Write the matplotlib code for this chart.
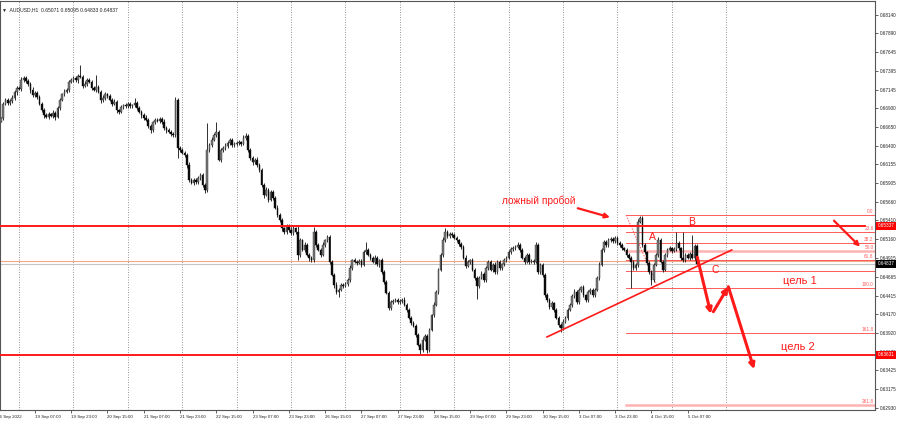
import matplotlib
matplotlib.use("Agg")
import matplotlib.pyplot as plt
import matplotlib.transforms as mtransforms
import numpy as np

plt.rcParams['font.family'] = ['Liberation Sans', 'DejaVu Sans']

# AUDUSD H1, bar 0 = 16 Sep 2022 16:00, last bar = 5 Oct 2022 11:00
first_open = 0.66720
closes = [
    0.66768, 0.66954, 0.67007, 0.66967, 0.66994, 0.67033, 0.67113, 0.67166, 0.67153, 0.67272,
    0.67299, 0.67259, 0.67219, 0.67140, 0.67073, 0.67100, 0.67047, 0.66954, 0.66874, 0.66808,
    0.66782, 0.66821, 0.66795, 0.66835, 0.66782, 0.66901, 0.67007, 0.67086, 0.67113, 0.67140,
    0.67246, 0.67272, 0.67299, 0.67272, 0.67325, 0.67312, 0.67193, 0.67219, 0.67272, 0.67246,
    0.67166, 0.67140, 0.67179, 0.67113, 0.67007, 0.67033, 0.67086, 0.67060, 0.67007, 0.66954,
    0.66980, 0.66874, 0.66848, 0.66914, 0.66940, 0.66927, 0.66954, 0.66927, 0.66940, 0.66967,
    0.66901, 0.66848, 0.66808, 0.66768, 0.66742, 0.66662, 0.66609, 0.66715, 0.66742, 0.66729,
    0.66755, 0.66715, 0.66636, 0.66609, 0.66583, 0.66556, 0.66543, 0.67007, 0.66371, 0.66344,
    0.66305, 0.66278, 0.66145, 0.65947, 0.65907, 0.65947, 0.65920, 0.65973, 0.66013, 0.65880,
    0.65814, 0.66344, 0.66410, 0.66477, 0.66543, 0.66583, 0.66212, 0.66344, 0.66371, 0.66397,
    0.66437, 0.66477, 0.66410, 0.66424, 0.66437, 0.66450, 0.66424, 0.66503, 0.66530, 0.66344,
    0.66238, 0.66185, 0.66212, 0.66145, 0.66079, 0.65880, 0.65748, 0.65814, 0.65682, 0.65788,
    0.65708, 0.65576, 0.65483, 0.65416, 0.65310, 0.65257, 0.65337, 0.65284, 0.65244, 0.65310,
    0.65257, 0.64953, 0.65151, 0.65019, 0.65085, 0.64953, 0.64913, 0.64886, 0.65257, 0.65085,
    0.65019, 0.64953, 0.65085, 0.65151, 0.65191, 0.64860, 0.64688, 0.64555, 0.64462, 0.64489,
    0.64555, 0.64542, 0.64568, 0.64621, 0.64780, 0.64886, 0.64860, 0.64847, 0.64873, 0.64820,
    0.64992, 0.65019, 0.64953, 0.64913, 0.64860, 0.64913, 0.64833, 0.64886, 0.64727, 0.64595,
    0.64449, 0.64250, 0.64329, 0.64343, 0.64356, 0.64329, 0.64343, 0.64356, 0.64290, 0.64224,
    0.64118, 0.64051, 0.64012, 0.63892, 0.63760, 0.63694, 0.63826, 0.63879, 0.63694, 0.63959,
    0.64157, 0.64290, 0.64462, 0.64754, 0.64953, 0.65151, 0.65257, 0.65204, 0.65231, 0.65218,
    0.65178, 0.65151, 0.65098, 0.65059, 0.64913, 0.64807, 0.64860, 0.64886, 0.64754, 0.64648,
    0.64542, 0.64648, 0.64701, 0.64621, 0.64780, 0.64860, 0.64754, 0.64820, 0.64727, 0.64860,
    0.64780, 0.64833, 0.64886, 0.64913, 0.64992, 0.65032, 0.65045, 0.65059, 0.65085, 0.65019,
    0.64913, 0.64860, 0.64953, 0.64860, 0.64873, 0.64860, 0.65085, 0.64727, 0.64820, 0.64688,
    0.64422, 0.64356, 0.64263, 0.64316, 0.64224, 0.64118, 0.64025, 0.63985, 0.64065, 0.64118,
    0.64224, 0.64290, 0.64409, 0.64462, 0.64329, 0.64489, 0.64528, 0.64422, 0.64356, 0.64462,
    0.64489, 0.64422, 0.64489, 0.64648, 0.64820, 0.65019, 0.65125, 0.65085, 0.65151, 0.65165,
    0.65138, 0.65178, 0.65112, 0.65085, 0.65045, 0.65019, 0.64953, 0.64913, 0.64860, 0.64780,
    0.64820, 0.65390, 0.65443, 0.65085, 0.64992, 0.64847, 0.64727, 0.64621, 0.64820, 0.64953,
    0.65151, 0.64860, 0.64754, 0.64953, 0.65019, 0.65045, 0.65006, 0.65032, 0.65112, 0.65045,
    0.64913, 0.64886, 0.64953, 0.64913, 0.64966, 0.64913, 0.65071, 0.64837,
]
# wick length beyond the body, in pips
wick_up = [
    2, 3, 2, 3, 2, 4, 2, 3, 2, 4, 3, 2, 3, 2, 4, 3, 2, 3, 2, 3,
    2, 3, 2, 4, 2, 3, 3, 2, 4, 2, 3, 2, 3, 2, 3, 15, 2, 4, 3, 2,
    3, 2, 16, 3, 2, 4, 3, 2, 3, 2, 4, 3, 2, 3, 2, 3, 2, 3, 2, 7,
    3, 2, 3, 2, 4, 2, 3, 2, 3, 2, 3, 2, 4, 2, 3, 2, 3, 4, 2, 3,
    2, 3, 2, 4, 3, 2, 3, 2, 3, 2, 3, 36, 3, 4, 3, 13, 3, 2, 3, 4,
    2, 3, 2, 3, 2, 3, 2, 4, 4, 3, 2, 3, 2, 4, 3, 2, 3, 4, 2, 3,
    2, 3, 4, 2, 3, 2, 3, 2, 4, 3, 2, 9, 3, 2, 4, 3, 2, 3, 7, 3,
    2, 3, 4, 2, 3, 2, 3, 2, 4, 3, 2, 3, 2, 3, 4, 2, 3, 2, 3, 2,
    3, 11, 2, 3, 2, 4, 3, 2, 3, 2, 3, 2, 3, 2, 3, 2, 3, 2, 4, 2,
    3, 2, 3, 2, 3, 2, 4, 3, 2, 3, 2, 4, 3, 2, 3, 4, 5, 3, 2, 3,
    2, 3, 2, 3, 2, 4, 3, 2, 3, 2, 3, 2, 4, 3, 2, 3, 2, 3, 4, 2,
    3, 2, 3, 2, 3, 2, 3, 2, 4, 3, 2, 3, 2, 3, 2, 3, 4, 3, 2, 3,
    2, 3, 2, 3, 2, 3, 2, 3, 4, 2, 3, 2, 3, 4, 2, 3, 2, 3, 2, 3,
    2, 3, 2, 3, 4, 2, 3, 2, 3, 2, 3, 2, 3, 2, 3, 2, 3, 2, 3, 2,
    3, 4, 3, 2, 3, 2, 3, 2, 3, 2, 4, 3, 2, 3, 2, 3, 2, 3, 14, 3,
    2, 34, 3, 2, 3, 25, 3, 2.4,
]
wick_dn = [
    1, 3, 2, 3, 2, 3, 2, 4, 2, 3, 2, 3, 2, 4, 3, 2, 3, 2, 3, 4,
    2, 3, 2, 3, 4, 2, 3, 2, 3, 2, 3, 2, 3, 2, 4, 2, 3, 2, 3, 2,
    3, 2, 3, 2, 4, 3, 2, 3, 2, 3, 2, 4, 3, 2, 3, 2, 3, 2, 3, 2,
    3, 2, 4, 3, 2, 3, 4, 2, 3, 2, 3, 2, 3, 4, 2, 3, 2, 3, 13, 3,
    2, 3, 4, 3, 2, 3, 2, 3, 2, 3, 4, 3, 2, 3, 2, 3, 2, 3, 2, 3,
    3, 2, 3, 2, 3, 2, 3, 2, 3, 2, 3, 4, 2, 3, 2, 3, 4, 2, 3, 2,
    3, 2, 3, 2, 4, 3, 2, 3, 2, 3, 2, 7, 3, 2, 3, 2, 4, 3, 2, 3,
    2, 3, 2, 3, 2, 3, 2, 4, 3, 7, 2, 3, 2, 3, 2, 3, 2, 3, 2, 3,
    2, 3, 2, 3, 2, 3, 2, 4, 2, 3, 2, 3, 2, 3, 2, 3, 2, 3, 2, 3,
    2, 3, 2, 3, 2, 5, 3, 2, 4, 3, 2, 3, 2, 3, 2, 3, 2, 3, 2, 3,
    2, 3, 2, 3, 2, 3, 2, 3, 2, 3, 17, 3, 2, 3, 2, 3, 2, 3, 2, 3,
    2, 3, 2, 3, 2, 3, 2, 3, 2, 3, 2, 3, 2, 3, 2, 3, 2, 3, 2, 3,
    3, 2, 3, 2, 3, 2, 3, 5, 3, 2, 3, 2, 3, 2, 3, 2, 3, 2, 3, 2,
    3, 2, 3, 2, 3, 2, 3, 2, 3, 2, 3, 2, 3, 2, 3, 2, 3, 2, 34, 3,
    2, 3, 2, 3, 2, 3, 2, 7, 3, 2, 3, 2, 3, 2, 3, 2, 3, 2, 3, 2,
    3, 2, 3, 2, 3, 2, 3, 0.4,
]

time_labels = ['19 Sep 07:00', '19 Sep 23:00', '20 Sep 15:00', '21 Sep 07:00', '21 Sep 23:00',
               '22 Sep 15:00', '23 Sep 07:00', '23 Sep 23:00', '26 Sep 15:00', '27 Sep 07:00',
               '27 Sep 23:00', '28 Sep 15:00', '29 Sep 07:00', '29 Sep 23:00', '30 Sep 15:00',
               '3 Oct 07:00', '3 Oct 23:00', '4 Oct 15:00', '5 Oct 07:00']
time_label_bars = [15, 31, 47, 63, 79, 95, 111, 127, 143, 159, 175, 191, 207, 223, 239,
                   255, 271, 287, 303]
day_start_bars = [8, 32, 56, 80, 104, 128, 152, 176, 200, 224, 248, 272, 296, 320]

price_ticks = [0.68140, 0.67890, 0.67645, 0.67395, 0.67145, 0.66900, 0.66650, 0.66400,
               0.66155, 0.65905, 0.65660, 0.65410, 0.65160, 0.64915, 0.64665, 0.64415,
               0.64170, 0.63920, 0.63670, 0.63425, 0.63175, 0.62930]

resistance = 0.65337
support = 0.63631
bid = 0.64837
orange_level = 0.64868

fib_high = 0.65483
fib_low = 0.64519
fib_start_bar = 275.8
fib_low_bar = 289.9
fib_levels = [0.0, 23.6, 38.2, 50.0, 61.8, 76.4, 100.0, 161.8, 261.8]
fib_labeled = [True, True, True, True, True, False, True, True, True]

trend_bars = [240.9, 322.4]
trend_prices = [0.63866, 0.65019]

# (bar, price) anchors of the hand-drawn arrows
false_break_arrow = [(254.5, 0.65572), (268.7, 0.65452)]
right_arrow = [(367.5, 0.65407), (379.0, 0.65063)]
zigzag = [[(307.2, 0.64922), (313.2, 0.64171)],
          [(314.3, 0.64201), (320.9, 0.64532)],
          [(320.9, 0.64532), (332.3, 0.63438)]]

texts = [('ложный пробой', 221.1, 0.65668, 7.3),
         ('A', 286.0, 0.65185, 7.5),
         ('B', 303.0, 0.65390, 7.5),
         ('C', 313.5, 0.64754, 7.5),
         ('цель 1', 345.0, 0.64608, 8.0),
         ('цель 2', 344.0, 0.63733, 8.0)]

RED = '#ff1a1a'
FIBRED = '#ff5a5a'

fig = plt.figure(figsize=(9, 4.22), dpi=100)
ax = fig.add_axes([0, 12 / 422, 875 / 900, 409 / 422])
ax.set_xlim(-0.4, 385.6)
ax.set_ylim(0.62898, 0.68319)

# day separators
for b in day_start_bars:
    ax.axvline(b, color='#8a8a8a', lw=0.6, ls=(0, (1.2, 1.8)), zorder=1)

# candles
c = np.array(closes)
o = np.r_[first_open, c[:-1]]
hi = np.maximum(o, c) + np.array(wick_up) / 10000
lo = np.minimum(o, c) - np.array(wick_dn) / 10000
x = np.arange(len(c))
up = c >= o
ax.vlines(x, lo, hi, color='#202020', lw=0.65, zorder=3)
body = np.maximum(np.abs(c - o), 0.00003)
ax.bar(x[up], body[up], bottom=o[up], width=0.72, color='#7a7a7a',
       edgecolor='#2a2a2a', lw=0.3, zorder=4)
ax.bar(x[~up], body[~up], bottom=np.minimum(o, c)[~up], width=0.72, color='#0a0a0a',
       edgecolor='#0a0a0a', lw=0.3, zorder=4)

# horizontal levels
ax.axhline(orange_level, color='#f4a582', lw=0.8, zorder=2)
ax.axhline(bid, color='#c4c4c4', lw=0.8, zorder=2)
ax.plot([-0.4, 381.2], [resistance, resistance], color=RED, lw=1.4, zorder=5)
ax.axhline(support, color=RED, lw=1.4, zorder=5)

# fibonacci grid
rng = fib_high - fib_low
for lev, lab in zip(fib_levels, fib_labeled):
    p = fib_high - lev / 100 * rng
    if lev in (50.0, 261.8):
        ax.plot([fib_start_bar, 385.6], [p, p], color='#ffb3b3', lw=1.8, zorder=2)
    else:
        ax.plot([fib_start_bar, 385.6], [p, p], color=FIBRED, lw=0.7, zorder=2)
    if lab:
        ax.text(385.0, p + 0.00012, f'{lev:.1f}', color=FIBRED, fontsize=3.4,
                ha='right', va='bottom', zorder=6)
ax.plot([fib_start_bar, fib_low_bar], [fib_high, fib_low], color=FIBRED, lw=0.7,
        ls=(0, (1.5, 1.5)), zorder=2)

# trend line
ax.plot(trend_bars, trend_prices, color=RED, lw=1.2, zorder=5)

# arrows
def arrow(p0, p1, lw, ms):
    ax.annotate('', xy=p1, xytext=p0,
                arrowprops=dict(arrowstyle='-|>', color=RED, lw=lw, mutation_scale=ms,
                                shrinkA=0, shrinkB=0), zorder=7)

arrow(*false_break_arrow, 1.6, 7)
arrow(*right_arrow, 1.6, 7)
for seg in zigzag:
    arrow(*seg, 2.2, 8)

for s, bx, py, fs in texts:
    ax.text(bx, py, s, color=RED, fontsize=fs, ha='left', va='center', zorder=7)

# axes styling
for sp in ax.spines.values():
    sp.set_color('#555555')
    sp.set_linewidth(0.8)
ax.yaxis.tick_right()
ax.set_yticks(price_ticks)
ax.set_yticklabels([f'{v:.5f}' for v in price_ticks])
ax.tick_params(axis='y', length=2, width=0.5, pad=1.2, labelsize=3.3, colors='#222222')
ax.set_xticks(time_label_bars)
ax.set_xticklabels(time_labels)
ax.tick_params(axis='x', length=2.5, width=0.5, pad=1.0, labelsize=3.2, colors='#222222')
for t in ax.get_xticklabels():
    t.set_ha('left')

trans_x = mtransforms.blended_transform_factory(ax.transData, ax.transAxes)
ax.text(-1.6, -0.012, '16 Sep 2022', transform=trans_x, fontsize=3.2, color='#222222',
        ha='left', va='top', clip_on=False)

# price boxes on the price scale
trans_y = mtransforms.blended_transform_factory(ax.transAxes, ax.transData)
for val, bg in [(resistance, '#ff0000'), (bid, '#000000'), (support, '#ff0000')]:
    ax.text(1.003, val, f'{val:.5f}', transform=trans_y, fontsize=3.3, color='white',
            ha='left', va='center', clip_on=False, zorder=10,
            bbox=dict(boxstyle='square,pad=0.35', fc=bg, ec='none'))

# header
ax.text(0.002, 0.985, '▼  AUDUSD,H1  0.65071 0.65095 0.64833 0.64837', transform=ax.transAxes,
        fontsize=3.6, color='#222222', ha='left', va='top')

fig.savefig('out.png', dpi=100)
